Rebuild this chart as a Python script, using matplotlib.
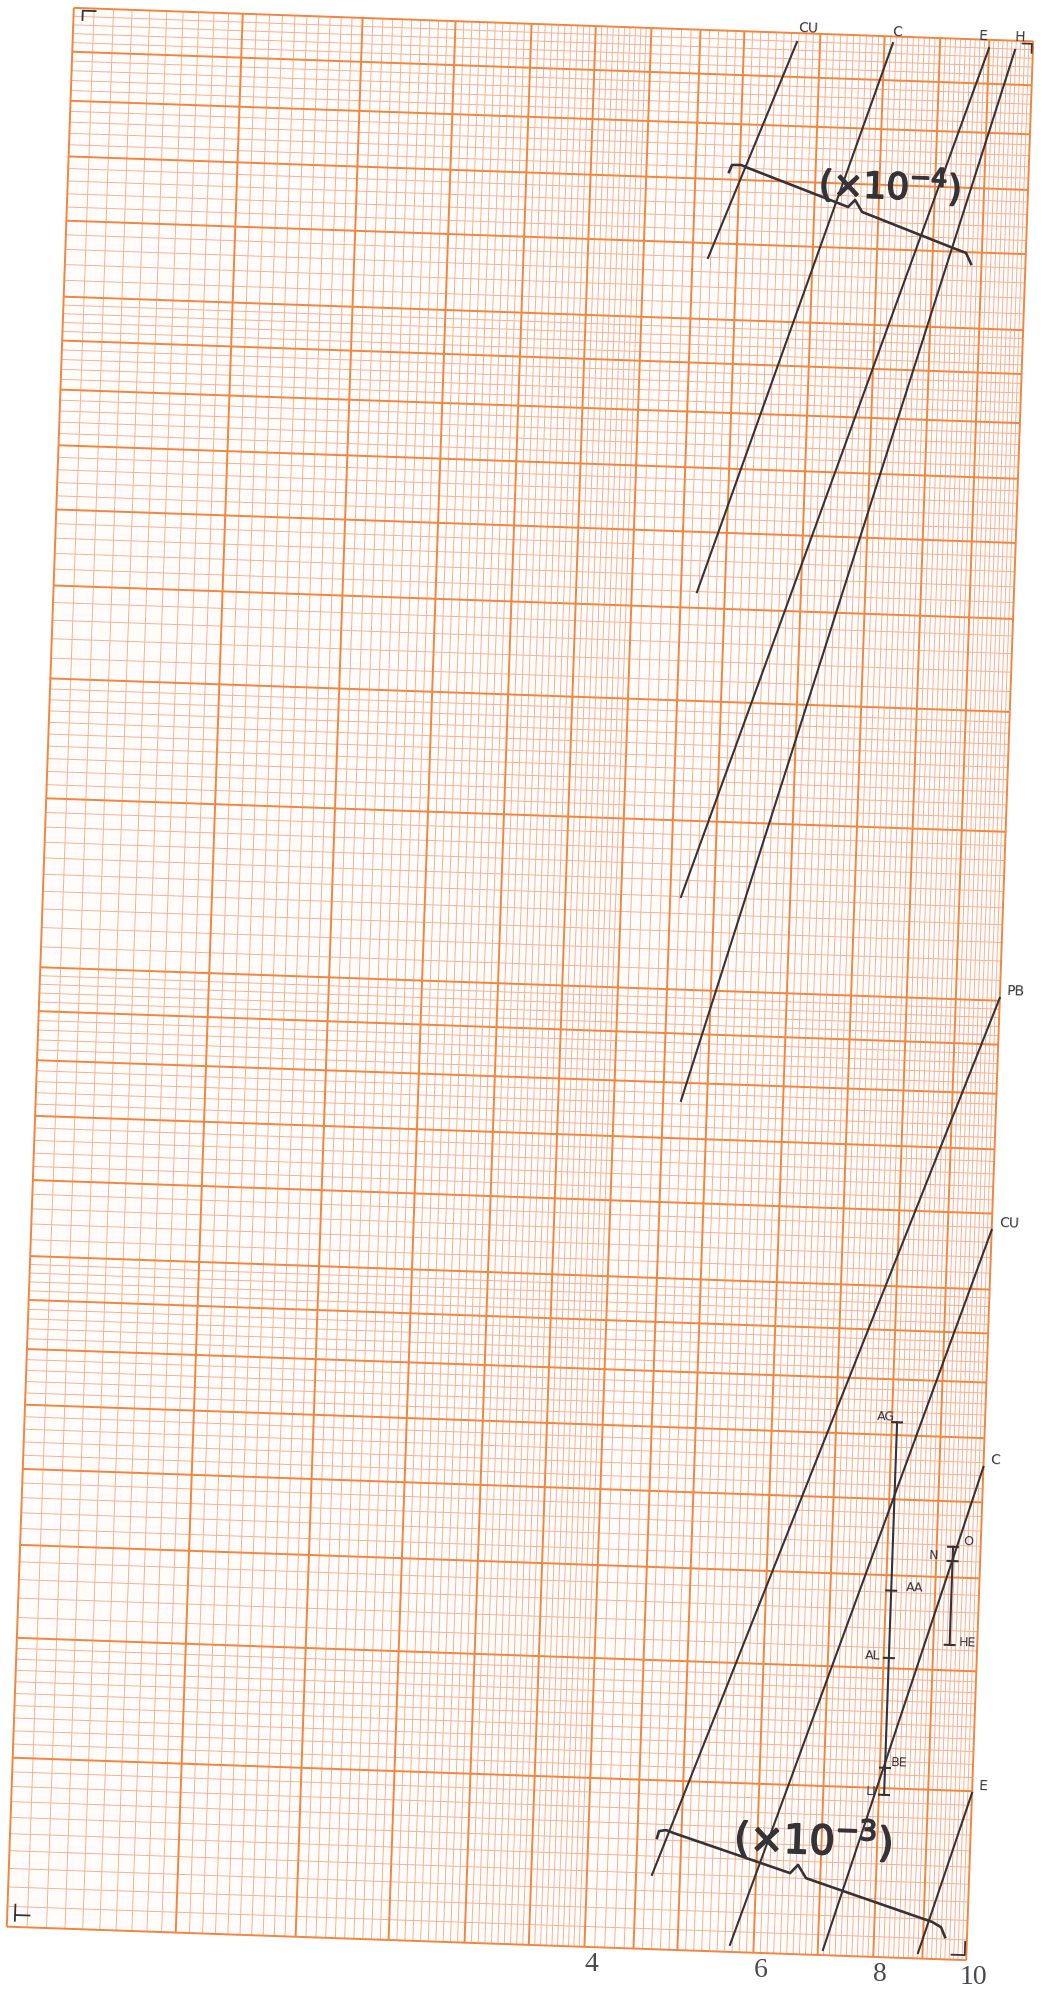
"""Absorption-style log-log sheet: two families of straight lines on 1x2 cycle paper."""

import numpy as np
import matplotlib

matplotlib.use("Agg")
import matplotlib.pyplot as plt
import matplotlib.patheffects as pe
from matplotlib.collections import LineCollection
from matplotlib.patches import Rectangle
from matplotlib.transforms import Affine2D

# upper family, read as (x10^-4)
UPPER_NAMES = ["CU", "C", "E", "H"]
UPPER_X = [(4.670, 5.677), (4.677, 7.145), (4.618, 8.999), (4.697, 9.580)]
UPPER_Y = [(57.9, 97.9), (25.96, 98.4), (12.49, 98.0), (7.66, 97.8)]

# lower family, read as (x10^-3)
LOWER_NAMES = ["PB", "CU", "C", "E"]
LOWER_X = [(4.675, 10.0), (5.669, 10.0), (7.087, 10.0), (8.903, 10.0)]
LOWER_Y = [(1.195, 10.07), (1.017, 5.77), (1.0125, 3.267), (1.0132, 1.494)]

# single-energy columns with their element marks
COLUMN_X = [8.1, 9.36]
COLUMN_MARKS = [[3.61, 2.41, 2.05, 1.575, 1.476], [2.69, 2.60, 2.126]]
COLUMN_NAMES = [["AG", "AA", "AL", "BE", "LI"], ["O", "N", "HE"]]

# scale braces
BRACE_UPPER_X = [4.876, 4.908, 5.015, 5.101, 6.506, 6.612, 6.730, 8.396, 8.665, 8.777]
BRACE_UPPER_Y = [71.27, 72.50, 72.56, 72.08, 66.2, 67.36, 65.49, 60.53, 59.88, 58.34]
BRACE_LOWER_X = [4.717, 4.737, 4.817, 4.900, 6.509, 6.630, 6.765, 9.184, 9.388, 9.486]
BRACE_LOWER_Y = [1.306, 1.328, 1.332, 1.324, 1.214, 1.239, 1.201, 1.093, 1.080, 1.055]

X_TICKS = [4, 6, 8, 10]

# sheet rulings per decade
HEAVY = [1, 1.5, 2, 2.5, 3, 3.5, 4, 4.5, 5, 6, 7, 8, 9, 10]
X_FINE = [(1, 4, 0.05), (4, 10, 0.1)]
Y_FINE = [(1, 2, 0.05), (2, 5, 0.1), (5, 10, 0.2)]

INK = "#333338"
RULE = "#f3853f"
FINE = "#f4ad90"
W, H, DPI = 1045, 1996, 100


def fine_values(steps):
    vals = []
    for lo, hi, step in steps:
        vals.extend(np.round(np.arange(lo, hi, step), 4))
    return sorted(set(vals) - set(HEAVY))


fig = plt.figure(figsize=(W / DPI, H / DPI), dpi=DPI)
fig.patch.set_facecolor("white")
ax = fig.add_axes([40 / W, 52 / H, 960 / W, 1920 / H])
ax.set_xscale("log")
ax.set_yscale("log")
ax.set_xlim(1, 10)
ax.set_ylim(1, 100)
ax.set_autoscale_on(False)
ax.axis("off")

# the sheet lies a little skewed on the scanner
paper = ax.transData + Affine2D().rotate_deg_around(520, 1012, -2.0)

ax.add_patch(Rectangle((1, 1), 9, 99, transform=paper, facecolor="#fffcfa",
                       edgecolor="none", clip_on=False, zorder=0))

decades = [1, 10]
x_fine = fine_values(X_FINE)
y_fine = [v * d for d in decades for v in fine_values(Y_FINE)]
y_heavy = sorted(set(v * d for d in decades for v in HEAVY))

fine_segs = [[(x, 1), (x, 100)] for x in x_fine] + [[(1, y), (10, y)] for y in y_fine]
heavy_segs = [[(x, 1), (x, 100)] for x in HEAVY] + [[(1, y), (10, y)] for y in y_heavy]
ax.add_collection(LineCollection(fine_segs, colors=FINE, linewidths=0.65,
                                 transform=paper, clip_on=False, zorder=1))
ax.add_collection(LineCollection(heavy_segs, colors=RULE, linewidths=1.4,
                                 transform=paper, clip_on=False, zorder=2))

line_kw = dict(color=INK, lw=1.5, transform=paper, clip_on=False, zorder=5)
label_kw = dict(color=INK, fontsize=10, rotation=-2, xycoords=paper,
                textcoords="offset points", annotation_clip=False, zorder=6)

upper_offsets = [(8, 10), (3, 8), (-4, 8.5), (3.5, 9.5)]
for name, xs, ys, off in zip(UPPER_NAMES, UPPER_X, UPPER_Y, upper_offsets):
    ax.plot(xs, ys, **line_kw)
    ax.annotate(name, xy=(xs[1], ys[1]), xytext=off, ha="center", va="center", **label_kw)

for name, xs, ys in zip(LOWER_NAMES, LOWER_X, LOWER_Y):
    ax.plot(xs, ys, **line_kw)
    ax.annotate(name, xy=(xs[1], ys[1]), xytext=(5, 5), ha="left", va="center", **label_kw)

mark_offsets = [[(-8, 4), (17, 2), (-11.5, 1.5), (10, 3.5), (-9, 2)],
                [(11, 3.5), (-14, 4), (13, 1.5)]]
for x, marks, names, offs in zip(COLUMN_X, COLUMN_MARKS, COLUMN_NAMES, mark_offsets):
    ax.plot([x, x], [min(marks), max(marks)], **line_kw)
    for y, name, off in zip(marks, names, offs):
        ax.plot([x / 1.012, x * 1.012], [y, y], **line_kw)
        ax.annotate(name, xy=(x, y), xytext=off, ha="center", va="center",
                    **{**label_kw, "fontsize": 9})

ax.plot(BRACE_UPPER_X, BRACE_UPPER_Y, **{**line_kw, "lw": 1.9})
ax.plot(BRACE_LOWER_X, BRACE_LOWER_Y, **{**line_kw, "lw": 1.9})
scale_fx = [pe.withStroke(linewidth=1.2, foreground=INK)]
ax.text(7.18, 70.0, r"($\times$10$^{-4}$)", transform=paper, fontsize=26,
        color=INK, ha="center", va="center", rotation=-2, zorder=6, path_effects=scale_fx)
ax.text(6.86, 1.317, r"($\times$10$^{-3}$)", transform=paper, fontsize=29,
        color=INK, ha="center", va="center", rotation=-2, zorder=6, path_effects=scale_fx)

# registration corners
corner_kw = dict(color=INK, lw=1.3, transform=paper, clip_on=False, zorder=5)
ax.plot([1.054, 1.022, 1.022], [99.4, 99.4, 97.2], **corner_kw)
ax.plot([9.75, 9.97, 9.97], [99.4, 99.4, 97.3], **corner_kw)
ax.plot([1.019, 1.019], [1.015, 1.055], **corner_kw)
ax.plot([1.019, 1.055], [1.029, 1.029], **corner_kw)
ax.plot([9.65, 9.96, 9.96], [1.012, 1.012, 1.045], **corner_kw)

for t in X_TICKS:
    ax.annotate(str(t), xy=(t, 1), xycoords=paper, xytext=(5, -12.5),
                textcoords="offset points", ha="center", va="center",
                fontsize=20, family="Liberation Serif", color="#4a4a4e",
                annotation_clip=False)

fig.savefig("out.png", dpi=DPI, facecolor="white")
